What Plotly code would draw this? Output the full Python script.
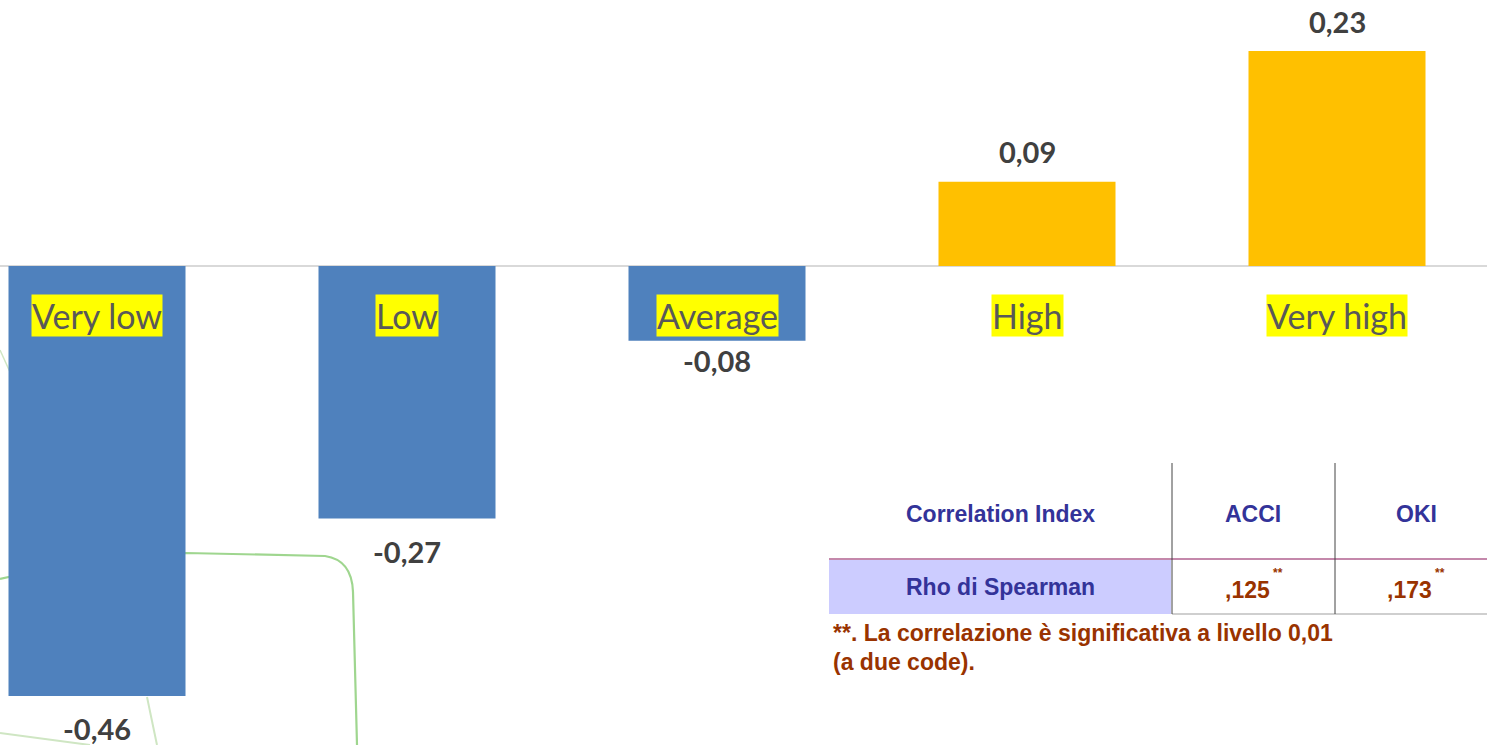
import plotly.graph_objects as go

# ---- data ----
categories = ["Very low", "Low", "Average", "High", "Very high"]
values = [-0.46, -0.27, -0.08, 0.09, 0.23]

table_header = ["Correlation Index", "ACCI", "OKI"]
table_row_label = "Rho di Spearman"
rho_values = [0.125, 0.173]
footnote = ["**. La correlazione è significativa a livello 0,01", "(a due code)."]

# ---- styling ----
W, H = 1487, 745
BLUE = "#4f81bd"
GOLD = "#ffc000"
NAVY = "#333399"
BROWN = "#993300"
label_gap = [32, 33, 20, 30, 29]  # px between bar end and its value label centre


def fmt_it(v, digits=2):
    """Italian decimal comma formatting."""
    return f"{v:.{digits}f}".replace(".", ",")


def px(x, y):
    """Pixel position -> paper coordinates."""
    return x / W, 1 - y / H


def path(points):
    segs = []
    for cmd, *pts in points:
        coords = " ".join(f"{px(a, b)[0]:.5f},{px(a, b)[1]:.5f}" for a, b in pts)
        segs.append(f"{cmd} {coords}")
    return " ".join(segs)


def paper_text(cx, cy, text, font, xanchor="center"):
    x, y = px(cx, cy)
    return dict(x=x, y=y, xref="paper", yref="paper", text=text, showarrow=False,
                xanchor=xanchor, yanchor="middle", font=font)


colors = [BLUE if v < 0 else GOLD for v in values]

fig = go.Figure(
    go.Bar(
        x=categories,
        y=values,
        marker=dict(color=colors, line=dict(width=0)),
        hoverinfo="skip",
    )
)

annotations = []
# value labels
for cat, v, gap in zip(categories, values, label_gap):
    annotations.append(dict(
        x=cat, y=v, xref="x", yref="y",
        text=f"<b>{fmt_it(v)}</b>", showarrow=False,
        yshift=gap if v > 0 else -gap, yanchor="middle",
        font=dict(family="Lato", size=29, color="#404040"),
    ))
# highlighted category labels just under the zero line
for cat in categories:
    annotations.append(dict(
        x=cat, y=0, xref="x", yref="y",
        text=cat, showarrow=False, yanchor="middle", yshift=-49,
        bgcolor="#ffff00", borderpad=0,
        font=dict(family="Lato", size=34, color="#595959"),
    ))

# correlation table
tbl_font = dict(family="Liberation Sans", size=23)
col_x = [1000, 1253, 1416]
for text, cx in zip(table_header, col_x):
    annotations.append(paper_text(cx, 514, f"<b>{text}</b>", dict(**tbl_font, color=NAVY)))
annotations.append(paper_text(col_x[0], 587, f"<b>{table_row_label}</b>", dict(**tbl_font, color=NAVY)))
for rv, cx in zip(rho_values, [1247, 1409]):
    txt = "<b>" + f"{rv:.3f}".lstrip("0").replace(".", ",") + "</b>"
    annotations.append(paper_text(cx, 590, txt, dict(**tbl_font, color=BROWN)))
    annotations.append(paper_text(cx + 31, 573, "<b>**</b>",
                                  dict(family="Liberation Sans", size=12, color=BROWN)))
for i, line in enumerate(footnote):
    annotations.append(paper_text(831, 633 + 29 * i, f"<b>{line}</b>",
                                  dict(**tbl_font, color=BROWN), xanchor="left"))

shapes = []
# row shading
x0, y0 = px(829, 560)
x1, y1 = px(1171, 614)
shapes.append(dict(type="rect", xref="paper", yref="paper", x0=x0, y0=y0, x1=x1, y1=y1,
                   fillcolor="#ccccff", line=dict(width=0), layer="above"))
# header / row rules
for (xa, xb, yy, col, w) in [(829, 1487, 559, "#b0608f", 1.5), (1172, 1487, 614, "#cfcfcf", 2)]:
    a0, b0 = px(xa, yy)
    a1, b1 = px(xb, yy)
    shapes.append(dict(type="line", xref="paper", yref="paper", x0=a0, y0=b0, x1=a1, y1=b1,
                       line=dict(color=col, width=w), layer="above"))
for xv in (1172, 1335):
    a0, b0 = px(xv, 463)
    a1, b1 = px(xv, 614)
    shapes.append(dict(type="line", xref="paper", yref="paper", x0=a0, y0=b0, x1=a1, y1=b1,
                       line=dict(color="#444444", width=1), layer="above"))

# faint decorative green strokes behind the bars
deco = [
    ([("M", (0, 579)), ("Q", (100, 556), (186, 553)), ("L", (325, 556)),
      ("Q", (352, 560), (353, 592)), ("L", (357, 745))], "#9fd68f", 2.2),
    ([("M", (0, 350)), ("L", (10, 372))], "#cfe6c3", 1.5),
    ([("M", (0, 733)), ("L", (90, 745))], "#cfe6c3", 2),
    ([("M", (147, 697)), ("L", (157, 745))], "#cfe6c3", 2),
]
for pts, col, w in deco:
    shapes.append(dict(type="path", xref="paper", yref="paper",
                       path=path([(c, *p) for c, *p in pts]),
                       line=dict(color=col, width=w), layer="below"))

# axis ranges map category slots to a 310 px pitch, first slot centred at x=97
slot_px = 310.0
first_px = 97.0
zero_px = 266.0
unit_px = 935.0

fig.update_layout(
    width=W, height=H,
    margin=dict(l=0, r=0, t=0, b=0),
    paper_bgcolor="white", plot_bgcolor="white",
    showlegend=False,
    bargap=1 - 177 / slot_px,
    xaxis=dict(range=[-first_px / slot_px, (W - first_px) / slot_px],
               showticklabels=False, showgrid=False, zeroline=False, showline=False),
    yaxis=dict(range=[-(H - zero_px) / unit_px, zero_px / unit_px],
               showticklabels=False, showgrid=False,
               zeroline=True, zerolinecolor="#d9d9d9", zerolinewidth=2, showline=False),
    annotations=annotations,
    shapes=shapes,
)

fig.write_html("out.html")
